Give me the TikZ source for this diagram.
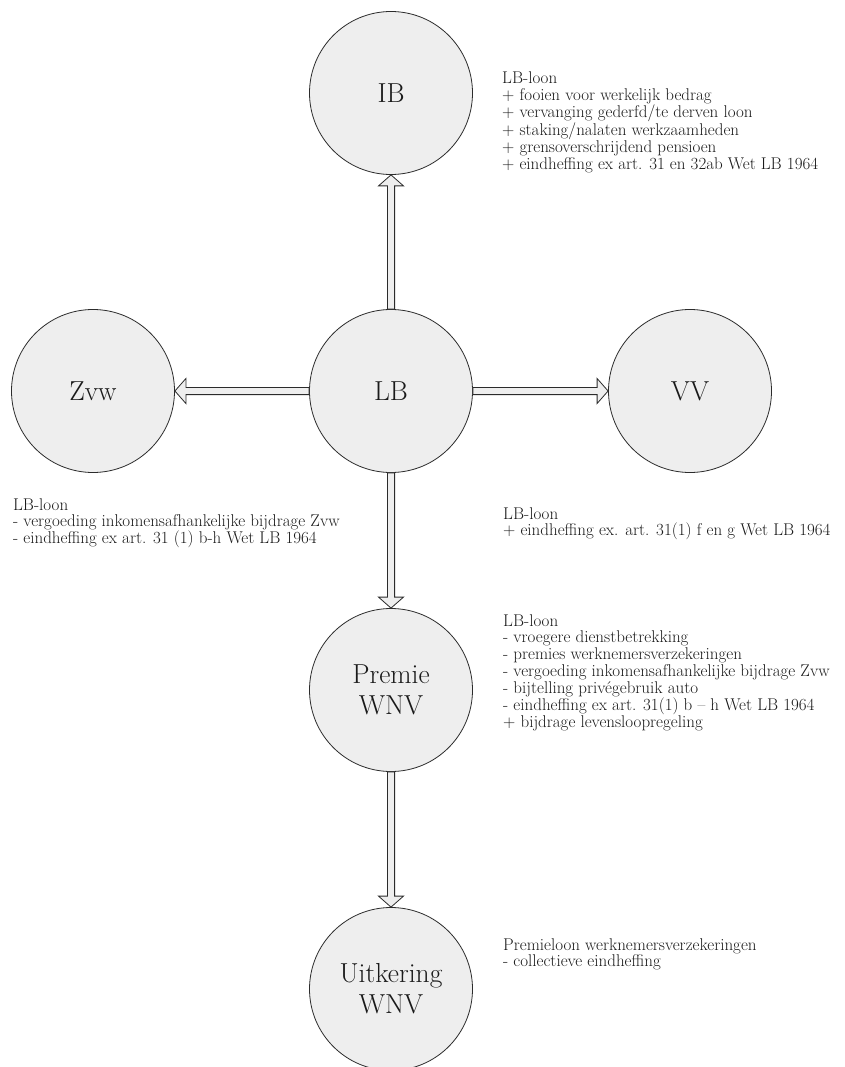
\documentclass[tikz,border=0pt]{standalone}
\usetikzlibrary{calc}

\definecolor{balgrijs}{HTML}{EEEEEE}
\definecolor{lijn}{HTML}{2B2B2B}
\definecolor{tekst}{HTML}{1A1A1A}

\begin{document}
\begin{tikzpicture}[x=1pt, y=-1pt,
  bal/.style={circle, draw=lijn, line width=0.8pt, fill=balgrijs, minimum size=163pt, inner sep=0pt, align=center, text=tekst, font=\fontsize{27.5}{31}\selectfont},
  noot/.style={anchor=north west, inner sep=0pt, align=left, text=tekst, font=\fontsize{17}{16.9}\selectfont},
  pijl/.style={draw=lijn, line width=0.8pt, fill=balgrijs, line join=miter,
    to path={($(\tikztostart)!3.6pt!90:(\tikztotarget)$)
      -- ($($(\tikztotarget)!11pt!(\tikztostart)$)!3.6pt!90:(\tikztotarget)$)
      -- ($($(\tikztotarget)!11pt!(\tikztostart)$)!12.5pt!90:(\tikztotarget)$)
      -- (\tikztotarget)
      -- ($($(\tikztotarget)!11pt!(\tikztostart)$)!12.5pt!-90:(\tikztotarget)$)
      -- ($($(\tikztotarget)!11pt!(\tikztostart)$)!3.6pt!-90:(\tikztotarget)$)
      -- ($(\tikztostart)!3.6pt!-90:(\tikztotarget)$)
      -- cycle}},
]
  \useasboundingbox (0,0) rectangle (845,1067);

  \node[bal] (ib) at (391,93) {IB};
  \node[bal] (lb) at (391,391) {LB};
  \node[bal] (zvw) at (93,391) {Zvw};
  \node[bal] (vv) at (690,391) {VV};
  \node[bal] (premie) at (391,690) {Premie\\WNV};
  \node[bal] (uitkering) at (391,989) {Uitkering\\WNV};

  \draw[pijl] (lb.north) to (ib.south);
  \draw[pijl] (lb.west) to (zvw.east);
  \draw[pijl] (lb.east) to (vv.west);
  \draw[pijl] (lb.south) to (premie.north);
  \draw[pijl] (premie.south) to (uitkering.north);

  \node[noot] (ibnoot) at (502,72) {
    LB-loon\\
    + fooien voor werkelijk bedrag\\
    + vervanging gederfd/te derven loon\\
    + staking/nalaten werkzaamheden\\
    + grensoverschrijdend pensioen\\
    + eindheffing ex art. 31 en 32ab Wet LB 1964
  };

  \node[noot] (zvwnoot) at (13,498) {
    LB-loon\\
    - vergoeding inkomensafhankelijke bijdrage Zvw\\
    - eindheffing ex art. 31 (1) b-h Wet LB 1964
  };

  \node[noot] (vvnoot) at (503,507) {
    LB-loon\\
    + eindheffing ex. art. 31(1) f en g Wet LB 1964
  };

  \node[noot] (premienoot) at (503,614) {
    LB-loon\\
    - vroegere dienstbetrekking\\
    - premies werknemersverzekeringen\\
    - vergoeding inkomensafhankelijke bijdrage Zvw\\
    - bijtelling privégebruik auto\\
    - eindheffing ex art. 31(1) b -- h Wet LB 1964\\
    + bijdrage levensloopregeling
  };

  \node[noot] (uitkeringnoot) at (503,938) {
    Premieloon werknemersverzekeringen\\
    - collectieve eindheffing
  };
\end{tikzpicture}
\end{document}
